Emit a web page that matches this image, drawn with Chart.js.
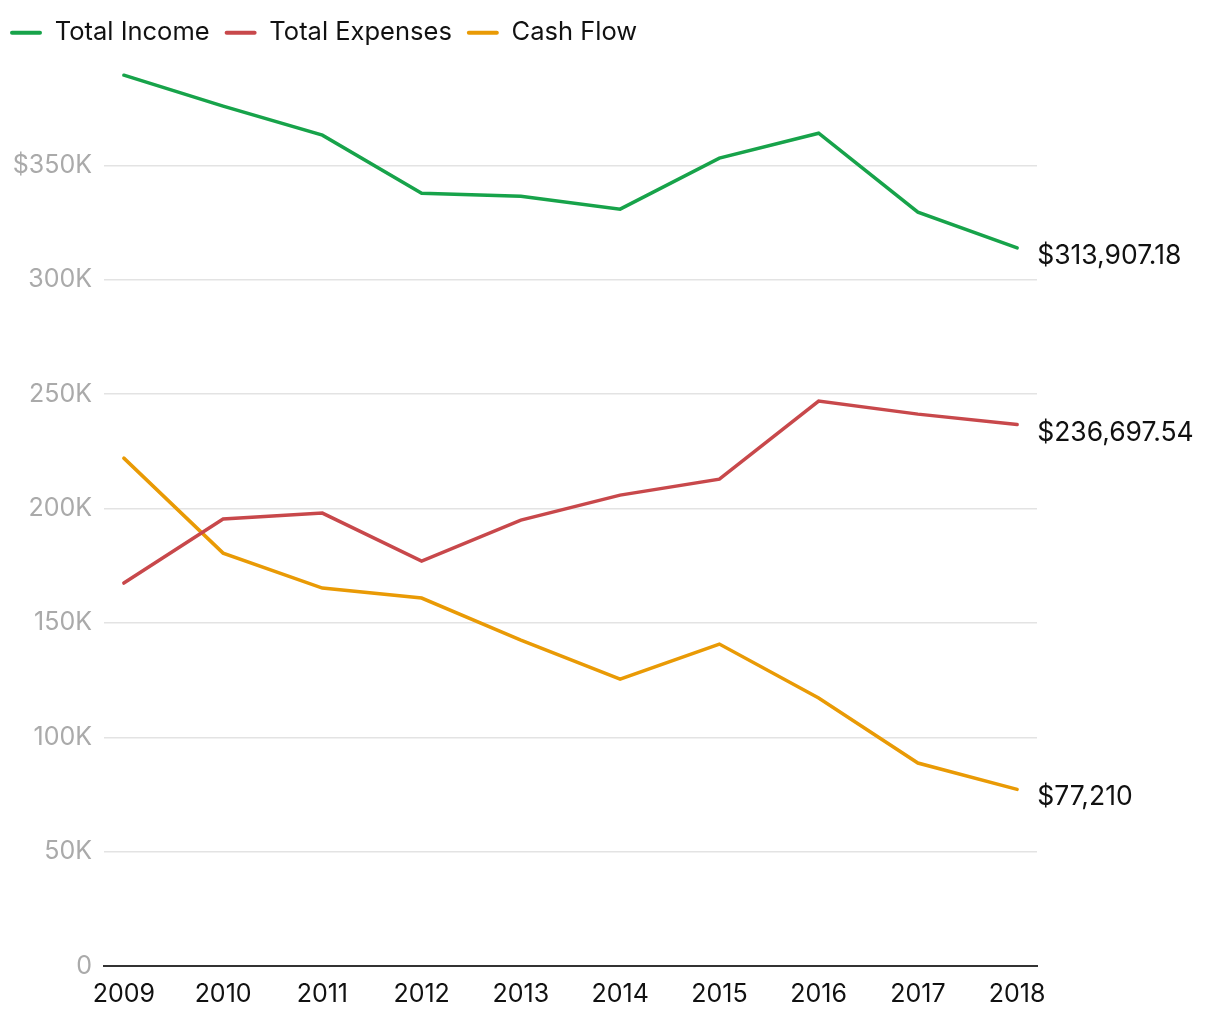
<!DOCTYPE html>
<html>
<head>
<meta charset="utf-8">
<script src="https://cdn.jsdelivr.net/npm/chart.js@4/dist/chart.umd.min.js"></script>
<style>
  html, body { margin: 0; padding: 0; background: #fff; }
  canvas { display: block; }
</style>
</head>
<body>
<canvas id="cashflow" width="1220" height="1020"></canvas>
<script>
const years = [2009, 2010, 2011, 2012, 2013, 2014, 2015, 2016, 2017, 2018]
const totalIncome = [389420, 375870, 363200, 337850, 336540, 330860, 353150, 364070, 329540, 313907.18]
const totalExpenses = [167400, 195370, 197990, 177010, 194930, 205860, 212850, 246940, 241260, 236697.54]
const cashFlow = [222020, 180500, 165210, 160840, 142480, 125440, 140730, 117130, 88720, 77210]
const yTicks = [0, 50000, 100000, 150000, 200000, 250000, 300000, 350000]

const series = [
  { label: 'Total Income', data: totalIncome, color: '#17a34a' },
  { label: 'Total Expenses', data: totalExpenses, color: '#c8484b' },
  { label: 'Cash Flow', data: cashFlow, color: '#e99a05' }
]

Chart.defaults.font.family = 'Inter'
Chart.defaults.font.size = 25

const money = (v) => '$' + v.toLocaleString('en-US', { minimumFractionDigits: 0, maximumFractionDigits: 2 })

// value label to the right of each line's last point
const endLabels = {
  id: 'endLabels',
  afterDatasetsDraw (chart) {
    const ctx = chart.ctx
    ctx.save()
    ctx.font = '26.5px Inter'
    ctx.fillStyle = '#111'
    ctx.textAlign = 'left'
    ctx.textBaseline = 'alphabetic'
    chart.data.datasets.forEach((ds, i) => {
      const meta = chart.getDatasetMeta(i)
      const pt = meta.data[meta.data.length - 1]
      ctx.fillText(money(ds.data[ds.data.length - 1].y), pt.x + 20, pt.y + 16)
    })
    ctx.restore()
  }
}

// fixed legend band height, legend nudged to the left edge
const legendTweak = {
  id: 'legendTweak',
  beforeInit (chart) {
    const legend = chart.legend
    const fit = legend.fit
    legend.fit = function () {
      fit.call(this)
      this.height = 46
    }
    const draw = legend.draw
    legend.draw = function () {
      this.left -= 5
      draw.call(this)
      this.left += 5
    }
  }
}

new Chart(document.getElementById('cashflow'), {
  type: 'line',
  data: {
    datasets: series.map((s) => ({
      label: s.label,
      data: years.map((y, i) => ({ x: y, y: s.data[i] })),
      borderColor: s.color,
      backgroundColor: s.color,
      borderWidth: 3.5,
      tension: 0,
      pointRadius: 0,
      borderCapStyle: 'round',
      borderJoinStyle: 'miter'
    }))
  },
  options: {
    responsive: false,
    animation: false,
    layout: { padding: { top: 5, right: 183, bottom: 0, left: 0 } },
    plugins: {
      legend: {
        position: 'top',
        align: 'start',
        labels: {
          boxWidth: 32,
          boxHeight: 4,
          padding: 15,
          color: '#111',
          font: { size: 25.5 },
          generateLabels (chart) {
            return Chart.defaults.plugins.legend.labels.generateLabels(chart)
              .map((l) => ({ ...l, lineWidth: 0, fillStyle: l.strokeStyle, borderRadius: 2 }))
          }
        }
      },
      tooltip: { enabled: false }
    },
    scales: {
      x: {
        type: 'linear',
        min: 2008.8,
        max: 2018.2,
        afterBuildTicks (scale) {
          scale.ticks = years.map((v) => ({ value: v }))
        },
        afterFit (scale) {
          scale.height = 54
        },
        grid: { display: false, drawTicks: false },
        border: { display: true, color: '#333', width: 2 },
        ticks: {
          padding: 13,
          color: '#111',
          maxRotation: 0,
          callback: (v) => String(v)
        }
      },
      y: {
        min: 0,
        max: 400000,
        afterBuildTicks (scale) {
          scale.ticks = yTicks.map((v) => ({ value: v }))
        },
        afterFit (scale) {
          scale.width = 104
        },
        grid: { color: '#e3e3e3', lineWidth: 1.5, drawTicks: false },
        border: { display: false },
        ticks: {
          padding: 12,
          color: '#aaa',
          callback: (v, i, ticks) => {
            if (v === 0) return '0'
            const k = v / 1000 + 'K'
            return i === ticks.length - 1 ? '$' + k : k
          }
        }
      }
    }
  },
  plugins: [endLabels, legendTweak]
})
</script>
</body>
</html>
